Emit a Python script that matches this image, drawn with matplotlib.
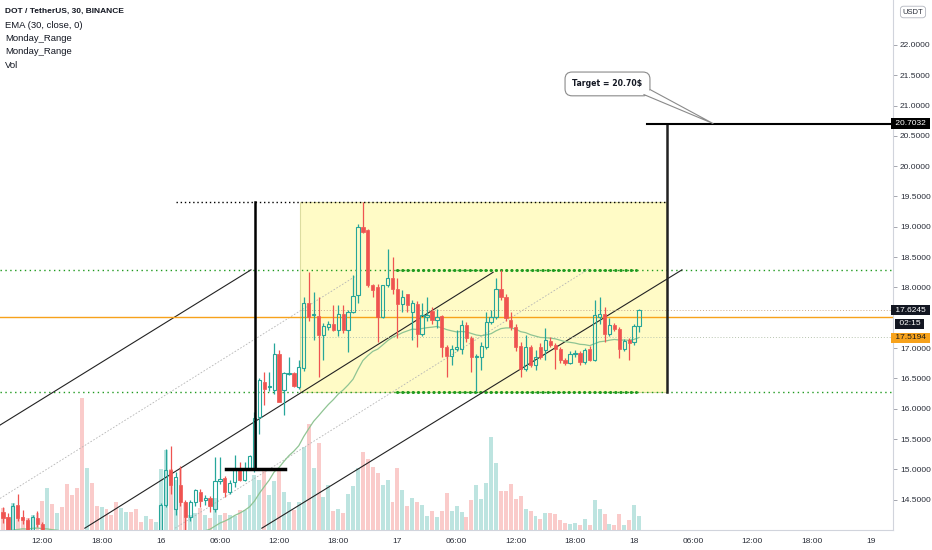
import numpy as np
import matplotlib.pyplot as plt
from matplotlib.patches import Rectangle, Polygon
from matplotlib.ticker import FormatStrFormatter

# DOT/USDT 30 min candles, 15th 08:00 -> 18th 00:30
opens = [14.30, 14.22, 14.00, 14.41, 14.21, 14.16, 13.95, 14.20, 14.10, 13.88,
         13.95, 13.82, 13.88, 13.74, 13.60, 13.50, 13.40, 13.10, 13.38, 13.22,
         13.18, 13.28, 13.22, 13.16, 13.06, 13.16, 13.24, 13.20, 13.14, 13.12,
         13.20, 13.16, 13.35, 14.41, 14.99, 14.35, 14.74, 14.46, 14.21, 14.46,
         14.63, 14.50, 14.53, 14.35, 14.80, 14.86, 14.63, 14.79, 15.01, 14.82,
         15.02, 15.00, 15.87, 16.44, 16.36, 16.31, 16.91, 16.31, 16.58, 16.59,
         16.36, 16.67, 17.74, 17.54, 17.53, 17.21, 17.35, 17.40, 17.30, 17.56,
         17.30, 17.60, 17.87, 18.99, 18.94, 18.04, 18.00, 17.52, 18.04, 18.15,
         17.98, 17.72, 17.89, 17.60, 17.73, 17.24, 17.52, 17.61, 17.46, 17.53,
         17.02, 16.87, 16.98, 16.99, 17.38, 17.17, 16.85, 16.86, 17.02, 17.43,
         17.52, 17.97, 17.84, 17.47, 17.34, 17.03, 16.66, 17.02, 16.72, 17.01,
         16.97, 17.12, 17.05, 16.99, 16.80, 16.76, 16.91, 16.92, 16.77, 16.99,
         16.81, 17.52, 17.57, 17.24, 17.38, 17.32, 16.99, 17.13, 17.10, 17.36]
highs = [14.38, 14.28, 14.45, 14.60, 14.33, 14.20, 14.25, 14.32, 14.14, 13.98,
         13.97, 13.92, 13.90, 13.78, 13.66, 13.55, 13.45, 13.45, 13.42, 13.30,
         13.32, 13.32, 13.26, 13.20, 13.20, 13.28, 13.28, 13.24, 13.18, 13.24,
         13.24, 13.40, 14.45, 15.33, 15.38, 14.95, 15.05, 14.50, 14.50, 14.68,
         14.68, 14.58, 14.56, 15.21, 15.21, 14.89, 14.82, 15.23, 15.12, 15.12,
         15.24, 15.95, 16.50, 16.61, 16.61, 17.09, 16.97, 16.60, 16.86, 16.61,
         16.81, 17.85, 18.26, 17.93, 17.85, 17.42, 17.45, 17.71, 17.71, 17.71,
         17.62, 18.21, 19.05, 19.41, 18.97, 18.06, 18.05, 18.04, 18.64, 18.51,
         18.15, 17.95, 17.90, 17.80, 17.78, 17.74, 17.85, 17.68, 17.65, 17.55,
         17.05, 17.05, 17.30, 17.46, 17.43, 17.20, 16.90, 17.10, 17.60, 17.63,
         18.15, 18.29, 17.90, 17.60, 17.40, 17.10, 17.21, 17.05, 16.97, 17.08,
         17.33, 17.19, 17.08, 17.02, 16.84, 16.95, 16.97, 16.95, 17.00, 17.03,
         17.79, 17.85, 17.68, 17.49, 17.42, 17.35, 17.15, 17.16, 17.40, 17.65]
lows = [14.12, 13.90, 13.95, 14.15, 14.10, 13.90, 13.90, 14.05, 13.80, 13.80,
        13.78, 13.78, 13.70, 13.55, 13.45, 13.35, 12.95, 13.05, 13.15, 13.12,
        13.14, 13.18, 13.12, 13.00, 13.02, 13.12, 13.16, 13.10, 13.08, 13.10,
        13.12, 13.14, 13.30, 14.38, 14.60, 14.25, 14.40, 14.00, 14.15, 14.40,
        14.38, 14.42, 14.30, 14.30, 14.76, 14.55, 14.60, 14.71, 14.80, 14.80,
        15.00, 14.95, 15.59, 16.06, 16.30, 16.25, 16.11, 15.89, 16.55, 16.35,
        16.33, 16.62, 17.45, 17.13, 16.53, 16.80, 17.30, 17.28, 17.20, 17.25,
        16.94, 17.58, 17.74, 18.90, 18.00, 17.85, 17.10, 17.50, 18.00, 17.90,
        17.16, 17.60, 17.60, 17.13, 17.02, 17.20, 17.45, 17.40, 17.33, 16.86,
        16.53, 16.72, 16.95, 16.91, 17.10, 16.61, 16.30, 16.64, 16.98, 17.40,
        17.48, 17.80, 17.45, 17.30, 16.95, 16.53, 16.62, 16.68, 16.64, 16.82,
        16.80, 17.02, 16.66, 16.76, 16.72, 16.73, 16.85, 16.72, 16.74, 16.78,
        16.78, 17.40, 17.10, 17.20, 17.28, 16.83, 16.95, 16.80, 17.05, 17.27]
closes = [14.20, 14.00, 14.40, 14.20, 14.16, 13.95, 14.22, 14.10, 13.88, 13.95,
          13.82, 13.88, 13.74, 13.60, 13.50, 13.40, 13.10, 13.38, 13.22, 13.18,
          13.28, 13.22, 13.16, 13.06, 13.16, 13.24, 13.20, 13.14, 13.12, 13.20,
          13.16, 13.35, 14.41, 14.99, 14.74, 14.88, 14.46, 14.21, 14.46, 14.66,
          14.48, 14.53, 14.39, 14.80, 14.84, 14.63, 14.78, 14.99, 14.82, 15.00,
          15.22, 15.85, 16.47, 16.32, 16.38, 16.91, 16.11, 16.59, 16.59, 16.37,
          16.69, 17.74, 17.52, 17.57, 17.21, 17.36, 17.40, 17.30, 17.57, 17.30,
          17.59, 17.86, 19.00, 18.92, 18.04, 17.96, 17.52, 18.04, 18.15, 17.98,
          17.72, 17.85, 17.71, 17.74, 17.24, 17.54, 17.54, 17.46, 17.52, 17.02,
          16.87, 16.99, 17.01, 17.38, 17.16, 16.86, 16.86, 17.03, 17.43, 17.52,
          17.97, 17.85, 17.49, 17.34, 17.02, 16.66, 17.02, 16.72, 16.86, 16.86,
          17.13, 17.05, 16.99, 16.80, 16.76, 16.91, 16.92, 16.77, 16.97, 16.81,
          17.54, 17.56, 17.24, 17.38, 17.32, 16.99, 17.12, 17.09, 17.36, 17.62]
volumes = [22, 13, 27, 24, 13, 12, 15, 17, 29, 42, 26, 17, 23, 46, 35, 42, 132, 62, 47, 24,
           23, 21, 15, 28, 22, 18, 18, 21, 8, 14, 11, 8, 61, 80, 61, 50, 62, 28, 15, 17,
           22, 15, 12, 32, 15, 17, 15, 14, 20, 20, 35, 55, 50, 62, 35, 49, 61, 38, 28, 20,
           28, 83, 106, 62, 87, 33, 45, 19, 21, 17, 36, 44, 62, 78, 71, 63, 57, 45, 50, 28,
           62, 40, 24, 32, 28, 25, 14, 19, 13, 19, 37, 19, 24, 18, 13, 30, 45, 31, 47, 93,
           67, 39, 39, 46, 31, 34, 21, 19, 14, 11, 17, 17, 16, 10, 7, 6, 7, 5, 11, 5,
           30, 21, 16, 6, 5, 16, 5, 10, 25, 14]

tick_labels = ["12:00", "18:00", "16", "06:00", "12:00", "18:00", "17", "06:00",
               "12:00", "18:00", "18", "06:00", "12:00", "18:00", "19"]
first_tick = 8        # bar index of 15th 12:00
bars_per_tick = 12    # 6 hours of 30 min bars
price_ticks = [14.5, 15.0, 15.5, 16.0, 16.5, 17.0, 18.0, 18.5, 19.0, 19.5,
               20.0, 20.5, 21.0, 21.5, 22.0]   # 17.5 / 22.5 sit under the scale labels

# drawings (bar index, price)
box_top, box_bottom = 19.41, 16.27
box_left, box_right = 60.2, 134.6
range_high, range_low = 18.29, 16.27
flag_x, flag_base = 51.1, 15.0
target_price = 20.7032
channel_lines = [((-0.6, 15.73), (50.3, 18.29)),
                 ((16.6, 14.03), (99.4, 18.25)),
                 ((52.5, 14.03), (137.7, 18.29))]
mid_lines = [((-0.6, 14.52), (71.8, 18.20)),
             ((34.9, 14.03), (119.1, 18.32))]
last_price = 17.5194
prev_price = 17.6245

green = '#26a69a'
red = '#ef5350'

plt.rcParams['font.family'] = ['Liberation Sans', 'DejaVu Sans']

fig = plt.figure(figsize=(9.32, 5.5), dpi=100, facecolor='white')
ax = fig.add_axes([0, 20 / 550, 893 / 932, 530 / 550])
axv = ax.twinx()
ax.set_zorder(axv.get_zorder() + 1)
ax.patch.set_visible(False)

x = np.arange(len(opens))
o = np.array(opens); h = np.array(highs); l = np.array(lows); c = np.array(closes)
up = c >= o

# volume
vcol = np.where(up, green, red)
axv.bar(x, volumes, width=0.8, color=vcol, alpha=0.3, linewidth=0)
axv.set_ylim(0, 530)
axv.set_yticks([])
for s in axv.spines.values():
    s.set_visible(False)

# EMA 30
alpha = 2 / 31
ema = []
e = 13.95
for v in closes:
    e = alpha * v + (1 - alpha) * e
    ema.append(e)
ax.plot(x, ema, color='#8fc493', lw=0.9, zorder=3)

# yellow box
ax.add_patch(Rectangle((box_left, box_bottom), box_right - box_left, box_top - box_bottom,
                       facecolor='#fffbc6', edgecolor='#dcdca0', lw=0.8, zorder=1))
ax.plot([35.1, box_right], [box_top, box_top], color='black', lw=1, ls=(0, (1, 2)), zorder=2)

# range levels
for lvl in (range_high, range_low):
    ax.axhline(lvl, color='#1f9a1f', lw=1, ls=(0, (1, 2.5)), zorder=2)
    ax.plot([80, 128.4], [lvl, lvl], color='#1f9a1f', lw=2.2, ls=(0, (0.1, 1.6)),
            dash_capstyle='round', zorder=2)

# channels
for (x0, y0), (x1, y1) in channel_lines:
    ax.plot([x0, x1], [y0, y1], color='#222222', lw=0.8, zorder=2)
for (x0, y0), (x1, y1) in mid_lines:
    ax.plot([x0, x1], [y0, y1], color='#b5b5b5', lw=0.6, ls=(0, (2, 2)), zorder=2)

# price lines
ax.axhline(last_price, color='#f7a21b', lw=1, zorder=2)
ax.plot([60.2, 181], [prev_price, prev_price], color='#c9a98a', lw=0.7, ls=(0, (1, 2)), zorder=2)
ax.plot([60.2, 181], [17.18, 17.18], color='#b8c4b0', lw=0.7, ls=(0, (1, 2)), zorder=2)

# candles
top = np.maximum(o, c); bot = np.minimum(o, c)
ccol = np.where(up, green, red)
ax.vlines(x, top, h, color=ccol, lw=0.9, zorder=4)
ax.vlines(x, l, bot, color=ccol, lw=0.9, zorder=4)
body = np.maximum(top - bot, 0.012)
ax.bar(x[up], body[up], bottom=bot[up], width=0.66, facecolor='none', edgecolor=green, lw=0.8, zorder=5)
ax.bar(x[~up], body[~up], bottom=bot[~up], width=0.66, facecolor=red, edgecolor=red, lw=0.5, zorder=5)

# flag pole
ax.plot([flag_x, flag_x], [flag_base, box_top], color='black', lw=1.8, zorder=6)
ax.plot([45.2, 57.2], [flag_base, flag_base], color='black', lw=2.5, zorder=6)

# target projection
ax.plot([134.6, 134.6], [range_low, target_price], color='#222222', lw=1.8, zorder=6)
ax.plot([130.6, 181], [target_price, target_price], color='black', lw=1.5, zorder=6)
ax.text(122.6, 21.356, 'Target = 20.70$', family='DejaVu Sans', weight='bold', fontsize=5.6,
        ha='center', va='center', color='#131722', zorder=7,
        bbox=dict(boxstyle='round,pad=0.95,rounding_size=0.9', fc='white', ec='#8a8a8a', lw=0.8))
tail = [(130.0, 21.18), (144.0, target_price), (131.3, 21.26)]
ax.add_patch(Polygon(tail, closed=True, facecolor='white', edgecolor='none', zorder=8))
ax.plot([p[0] for p in tail], [p[1] for p in tail], color='#8a8a8a', lw=0.8, zorder=8)

# axes
ax.set_xlim(-0.6, 180.5)
ax.set_ylim(14.0, 22.74)
ax.set_xticks([first_tick + bars_per_tick * k for k in range(len(tick_labels))])
ax.set_xticklabels(tick_labels)
ax.yaxis.tick_right()
ax.set_yticks(price_ticks)
ax.yaxis.set_major_formatter(FormatStrFormatter('%.4f'))
ax.tick_params(axis='x', length=0, pad=6, labelsize=6, labelcolor='#2a2e39')
ax.tick_params(axis='y', length=3, pad=2, labelsize=6, labelcolor='#2a2e39', color='#9598a1', width=0.6)
for s in ('top', 'left'):
    ax.spines[s].set_visible(False)
for s in ('right', 'bottom'):
    ax.spines[s].set_color('#d1d4dc')
    ax.spines[s].set_linewidth(0.8)

# price labels on scale
ytr = ax.get_yaxis_transform()
def scale_label(price, text, fc, tc, xpos=1.0):
    ax.text(xpos, price, ' ' + text + ' ', transform=ytr, ha='left', va='center', fontsize=6,
            color=tc, zorder=10, clip_on=False,
            bbox=dict(boxstyle='square,pad=0.2', fc=fc, ec='none'))
scale_label(target_price, '20.7032', 'black', 'white')
scale_label(prev_price, '17.6245', '#131722', 'white')
scale_label(17.40, '02:15', '#131722', 'white', xpos=1.004)
scale_label(17.17, '17.5194', '#f7a21b', '#1a1a1a')

fig.text(913 / 932, 1 - 12 / 550, 'USDT', ha='center', va='center', fontsize=5.5, color='#2a2e39',
         bbox=dict(boxstyle='round,pad=0.3,rounding_size=0.4', fc='white', ec='#b2b5be', lw=0.6))

# legend
legend_lines = ['EMA (30, close, 0)', 'Monday_Range', 'Monday_Range', 'Vol']
fig.text(5 / 932, 1 - 11 / 550, 'DOT / TetherUS, 30, BINANCE', fontsize=6.0, weight='bold',
         color='#131722', va='center')
for k, t in enumerate(legend_lines):
    fig.text(5 / 932, 1 - (25 + 13.4 * k) / 550, t, fontsize=6.8, color='#131722', va='center')

fig.savefig('out.png', dpi=100, facecolor='white')
